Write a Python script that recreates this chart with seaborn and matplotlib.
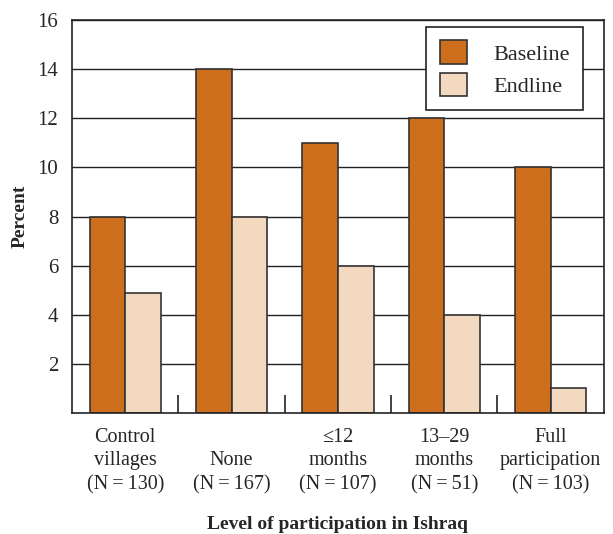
import pandas as pd
import matplotlib
matplotlib.use("Agg")
import matplotlib.pyplot as plt
import seaborn as sns

# --- DATA ---
groups = ["Control\nvillages\n(N\u2009=\u2009130)", "\nNone\n(N\u2009=\u2009167)",
          "\u226412\nmonths\n(N\u2009=\u2009107)", "13\u201329\nmonths\n(N\u2009=\u200951)",
          "Full\nparticipation\n(N\u2009=\u2009103)"]
baseline = [8, 14, 11, 12, 10]
endline = [4.9, 8, 6, 4, 1]
series = ["Baseline", "Endline"]
yticks = [2, 4, 6, 8, 10, 12, 14, 16]

df = pd.DataFrame({
    "group": groups * 2,
    "value": baseline + endline,
    "series": [series[0]] * len(groups) + [series[1]] * len(groups),
})

sns.set_style("white")
plt.rcParams["font.family"] = ["Liberation Serif", "DejaVu Serif"]

fig = plt.figure(figsize=(6.13, 5.34), dpi=100)
ax = fig.add_axes([0.1175, 0.2266, 0.8675, 0.7359])

sns.barplot(data=df, x="group", y="value", hue="series",
            palette=["#CD6E1C", "#F4D9C1"], saturation=1, width=0.67, gap=0,
            edgecolor="#333333", linewidth=1.2, ax=ax)

ax.set_ylim(0, 16)
ax.set_xlim(-0.5, len(groups) - 0.5)
ax.set_yticks(yticks)
ax.yaxis.grid(True, color="#222222", linewidth=1.0)
ax.set_axisbelow(True)
for s in ax.spines.values():
    s.set_color("#222222")
    s.set_linewidth(1.2)

# short ticks between groups
ax.set_xticks([i + 0.5 for i in range(len(groups) - 1)], minor=True)
ax.tick_params(axis="x", which="minor", direction="in", length=13, width=1.2, color="#222222", bottom=True)
ax.tick_params(axis="x", which="major", length=0, labelsize=14.5, pad=11)
ax.tick_params(axis="y", length=0, labelsize=15, pad=10)
for t in ax.get_xticklabels():
    t.set_linespacing(1.3)

ax.set_xlabel("Level of participation in Ishraq", fontsize=14, fontweight="bold", labelpad=16)
ax.set_ylabel("Percent", fontsize=14, fontweight="bold", labelpad=6)

leg = ax.legend(loc="upper right", bbox_to_anchor=(0.9605, 0.982), fontsize=16,
                frameon=True, fancybox=False, edgecolor="#222222",
                handlelength=1.25, handleheight=1.25, labelspacing=0.36,
                handletextpad=1.15, borderpad=0.6, borderaxespad=0)
leg.get_frame().set_linewidth(1.2)
leg.get_frame().set_alpha(1)

fig.savefig("out.png", dpi=100)
